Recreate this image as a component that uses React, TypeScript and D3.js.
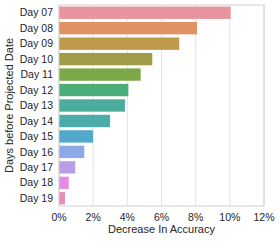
import React from 'react';
import * as d3 from 'd3';

const days = ['Day 07', 'Day 08', 'Day 09', 'Day 10', 'Day 11', 'Day 12', 'Day 13', 'Day 14', 'Day 15', 'Day 16', 'Day 17', 'Day 18', 'Day 19'];
const decrease = [10.05, 8.08, 7.04, 5.46, 4.78, 4.06, 3.86, 2.99, 1.99, 1.48, 0.95, 0.57, 0.35];
const barColors = ['#e8949f', '#e09262', '#bf9a4d', '#a09c47', '#7ca84a', '#4bae78', '#4bac9c', '#4cabab', '#52a9cb', '#8ea9e6', '#ba9ee5', '#e48be5', '#e68fbf'];
const xTicks = [0, 2, 4, 6, 8, 10, 12];

const width = 280;
const height = 241;
const margin = { top: 5, right: 16, bottom: 35, left: 59 };
const font = '"Liberation Sans", Arial, sans-serif';

const App: React.FC = () => {
  const x = d3.scaleLinear()
    .domain([0, 12])
    .range([margin.left, width - margin.right]);

  const y = d3.scaleBand<string>()
    .domain(days)
    .range([margin.top, height - margin.bottom])
    .paddingInner(0.2)
    .paddingOuter(0.1);

  const plotBottom = height - margin.bottom;

  return (
    <svg width={width} height={height} style={{ position: 'absolute', left: 0, top: 0, background: '#fff' }}>
      {/* grid */}
      {xTicks.map(t => (
        <line key={t} x1={x(t)} x2={x(t)} y1={margin.top} y2={plotBottom} stroke="#e3e3e3" strokeWidth={1} />
      ))}

      {/* bars */}
      {days.map((d, i) => (
        <rect
          key={d}
          x={x(0)}
          y={y(d)}
          width={x(decrease[i]) - x(0)}
          height={y.bandwidth()}
          fill={barColors[i]}
        />
      ))}

      {/* frame */}
      <rect
        x={margin.left}
        y={margin.top}
        width={width - margin.right - margin.left}
        height={plotBottom - margin.top}
        fill="none"
        stroke="#d0d0d0"
        strokeWidth={1}
      />

      {/* y tick labels */}
      {days.map(d => (
        <text
          key={d}
          x={margin.left - 6}
          y={(y(d) ?? 0) + y.bandwidth() / 2}
          dy="0.35em"
          textAnchor="end"
          fontFamily={font}
          fontSize={10.5}
          fill="#262626"
        >
          {d}
        </text>
      ))}

      {/* x tick labels */}
      {xTicks.map(t => (
        <text
          key={t}
          x={x(t)}
          y={plotBottom + 15}
          textAnchor="middle"
          fontFamily={font}
          fontSize={10.5}
          fill="#262626"
        >
          {`${t}%`}
        </text>
      ))}

      <text
        x={(margin.left + width - margin.right) / 2}
        y={plotBottom + 27}
        textAnchor="middle"
        fontFamily={font}
        fontSize={11}
        fill="#262626"
      >
        Decrease In Accuracy
      </text>

      <text
        transform={`translate(13,${(margin.top + plotBottom) / 2}) rotate(-90)`}
        textAnchor="middle"
        fontFamily={font}
        fontSize={11}
        fill="#262626"
      >
        Days before Projected Date
      </text>
    </svg>
  );
};

export default App;
